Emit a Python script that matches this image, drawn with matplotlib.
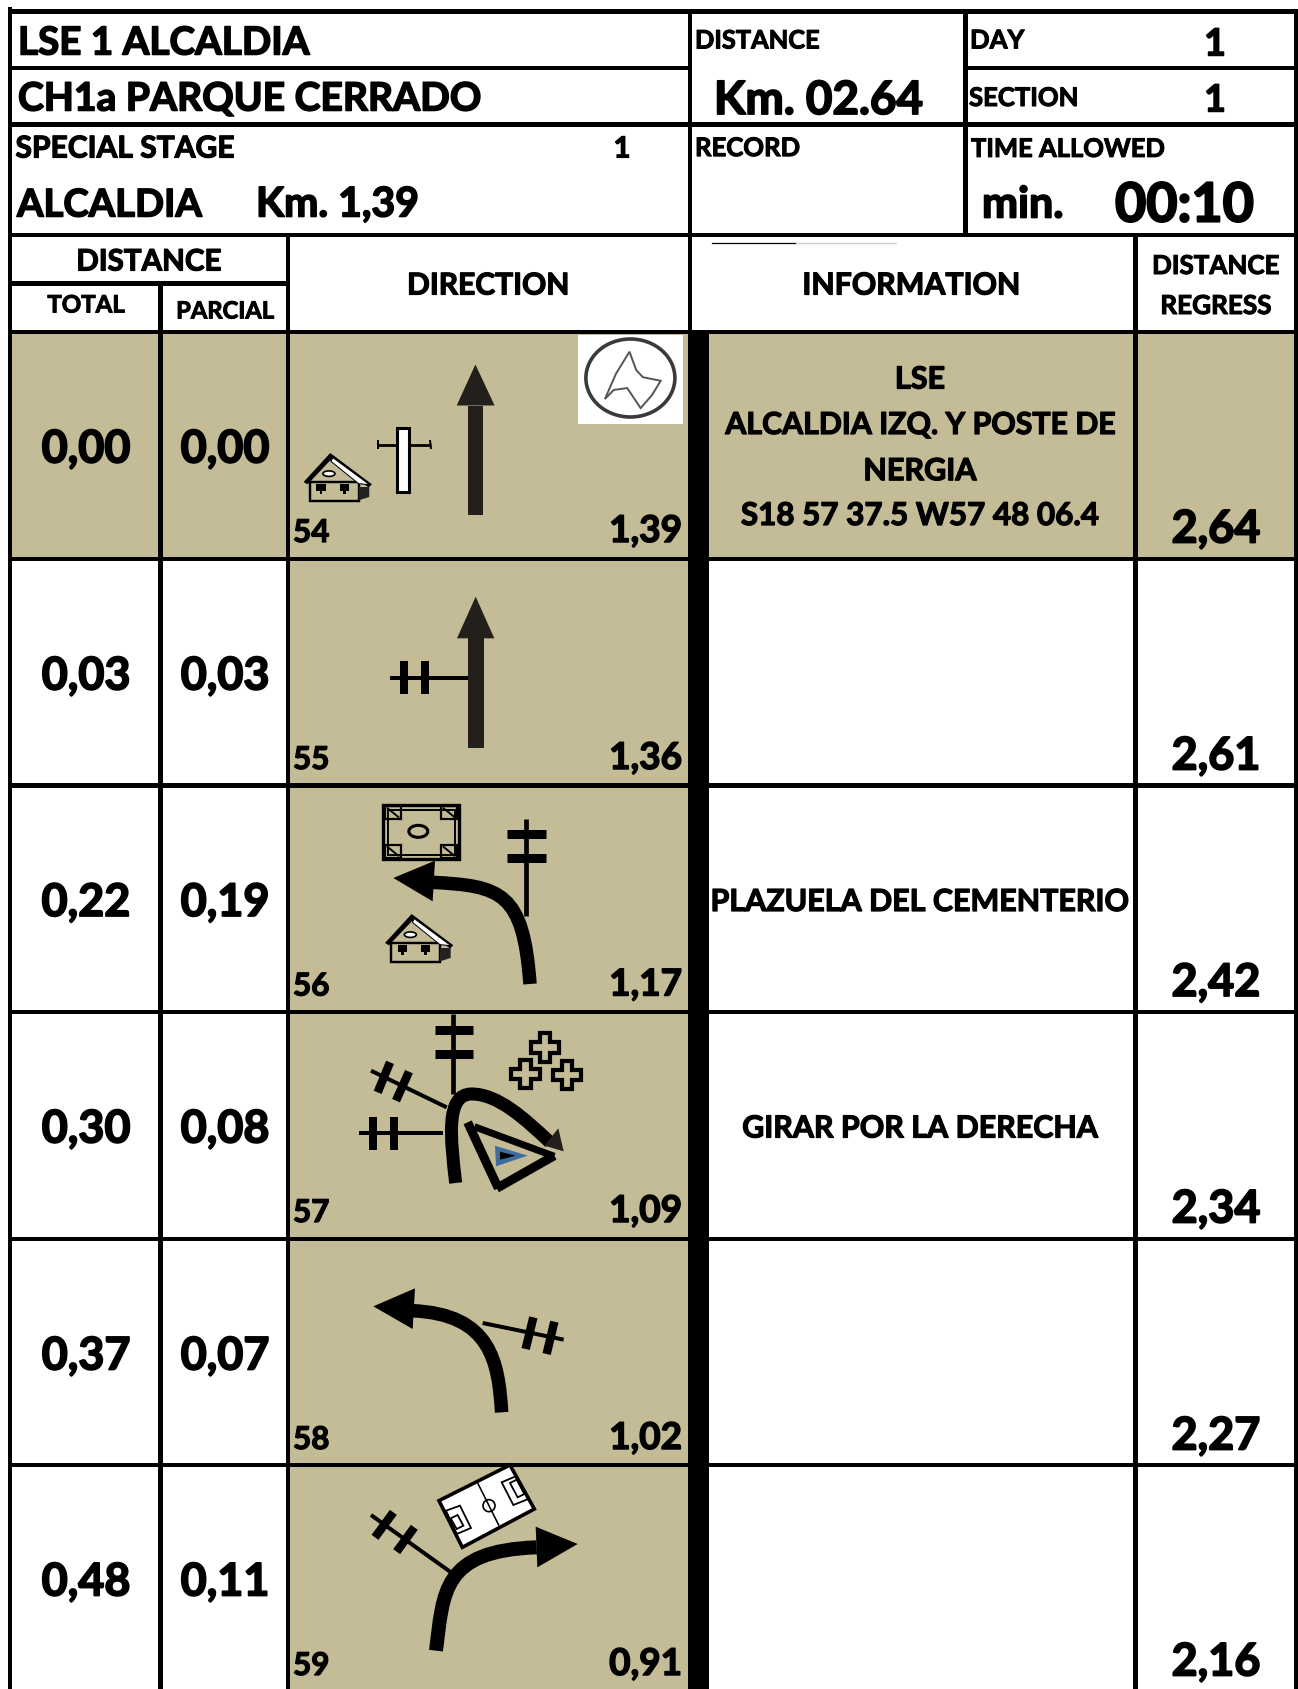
import matplotlib
matplotlib.use("Agg")
import matplotlib.pyplot as plt
import matplotlib.patheffects as pe
from matplotlib.patches import Rectangle, Polygon, Ellipse, PathPatch, Circle
from matplotlib.path import Path

plt.rcParams['font.family'] = ['Lato', 'DejaVu Sans']

# ---- data ----
row_ids = ['54', '55', '56', '57', '58', '59']
total = ['0,00', '0,03', '0,22', '0,30', '0,37', '0,48']
parcial = ['0,00', '0,03', '0,19', '0,08', '0,07', '0,11']
remaining = ['1,39', '1,36', '1,17', '1,09', '1,02', '0,91']
regress = ['2,64', '2,61', '2,42', '2,34', '2,27', '2,16']
info_single = ['', '', 'PLAZUELA DEL CEMENTERIO', 'GIRAR POR LA DERECHA', '', '']
info_first = ['LSE', 'ALCALDIA IZQ. Y POSTE DE', 'NERGIA', 'S18 57 37.5 W57 48 06.4']
info_sizes = [22, 21.8, 22, 22.6]
row_tops = [333, 560, 786.5, 1013, 1240, 1466]

TAN = '#C4BC96'
DARK = '#231F1A'
LW = 4.6

W, H = 1298, 1690
fig = plt.figure(figsize=(W / 100, H / 100), dpi=100)
ax = fig.add_axes([0, 0, 1, 1])
ax.set_xlim(0, W)
ax.set_ylim(H, 0)
ax.axis('off')


def T(x, y, s, size, ha='left', color='black'):
    t = ax.text(x, y + 1.5, s, fontsize=size, ha=ha, va='baseline', fontweight='bold', color=color, zorder=10)
    t.set_path_effects([pe.withStroke(linewidth=size * 0.04, foreground=color)])


def rect(x0, y0, x1, y1, color='black', z=3):
    ax.add_patch(Rectangle((x0, y0), x1 - x0, y1 - y0, fc=color, ec='none', zorder=z))


def hl(y, x0, x1):
    rect(x0 - LW / 2, y - LW / 2, x1 + LW / 2, y + LW / 2)


def vl(x, y0, y1):
    rect(x - LW / 2, y0 - LW / 2, x + LW / 2, y1)


def Z(ox, oy):
    return lambda p: (ox + p[0] / 3, oy + p[1] / 3)


def seg(a, b, w, color='black', z=5):
    ax.plot([a[0], b[0]], [a[1], b[1]], color=color, lw=w * 0.72, solid_capstyle='butt', zorder=z)


def poly(pts, fc='black', ec='none', lw=0, z=5, join='miter'):
    ax.add_patch(Polygon(pts, closed=True, fc=fc, ec=ec, lw=lw * 0.72, zorder=z, joinstyle=join))


def curve(pts, w, z=5):
    codes = [Path.MOVETO] + [Path.CURVE4] * (len(pts) - 1)
    ax.add_patch(PathPatch(Path(pts, codes), fc='none', ec='black', lw=w * 0.72, capstyle='butt', zorder=z))


def house(x, y, s=1.0):
    f = lambda a, b: (x + (a - 300) / 3 * s, y + (b - 403) / 3 * s)
    poly([f(318, 490), f(465, 490), f(465, 547), f(318, 547)], fc=TAN, ec='black', lw=2.4 * s)
    poly([f(465, 505), f(497, 505), f(497, 535), f(465, 545)], fc='#222222')
    poly([f(300, 490), f(380, 403), f(505, 497), f(495, 506), f(380, 425), f(312, 497)])
    poly([f(388, 417), f(498, 498), f(465, 495), f(382, 428)], fc='white', ec='black', lw=1)
    for a in (338, 408):
        poly([f(a, 495), f(a + 28, 495), f(a + 28, 518), f(a + 18, 518), f(a + 18, 527), f(a + 10, 527), f(a + 10, 518), f(a, 518)])
    ax.add_patch(Ellipse(f(376, 465), 12 * s, 5.5 * s, fc='white', ec='black', lw=1.2, zorder=6))


# ---- cell fills ----
rect(10, 333, 1296, 560, TAN, 1)
for top in row_tops[1:]:
    rect(288, top, 690, min(top + 227, H), TAN, 1)

# ---- grid ----
hl(12.7, 10, 1296)
hl(68.8, 10, 690)
hl(68.8, 965.5, 1296)
hl(125.5, 10, 1296)
hl(236, 10, 1296)
hl(284.5, 10, 288)
hl(333, 10, 1296)
for top in row_tops[1:]:
    hl(top, 10, 1296)
vl(10, 10, H)
vl(160.5, 284.5, H)
vl(288, 236, H)
vl(690, 12.7, 333)
vl(965.5, 12.7, 236)
vl(1135.5, 236, H)
vl(1296, 12.7, H)
rect(688, 333, 709, H, 'black', 4)
ax.plot([711.5, 795.5], [244.4, 244.4], color='black', lw=0.9, zorder=4)
ax.plot([795.5, 896], [244.4, 244.4], color='#cccccc', lw=0.9, zorder=4)

# ---- header text ----
T(18, 54, 'LSE 1 ALCALDIA', 27.8)
T(18, 110, 'CH1a PARQUE CERRADO', 28.1)
T(15.5, 157, 'SPECIAL STAGE', 21.6)
T(622, 157, '1', 21, 'center')
T(17, 216, 'ALCALDIA', 27.5)
T(256, 216, 'Km. 1,39', 29.5)
T(695, 48, 'DISTANCE', 18.3)
T(714, 113.5, 'Km. 02.64', 33)
T(970, 48, 'DAY', 18.6)
T(1215, 55, '1', 27, 'center')
T(969, 105.5, 'SECTION', 18.5)
T(1215, 111, '1', 27, 'center')
T(695, 155.6, 'RECORD', 18.5)
T(971, 156.4, 'TIME ALLOWED', 18.4)
T(982, 217, 'min.', 31)
T(1115, 221, '00:10', 38.8)
T(149, 270, 'DISTANCE', 21.3, 'center')
T(86, 312, 'TOTAL', 17.3, 'center')
T(225, 318, 'PARCIAL', 17.1, 'center')
T(488, 294, 'DIRECTION', 21.6, 'center')
T(911, 294, 'INFORMATION', 21.8, 'center')
T(1216, 273.5, 'DISTANCE', 18.7, 'center')
T(1216, 313.5, 'REGRESS', 18.8, 'center')

# ---- row text ----
for i, top in enumerate(row_tops):
    T(86, top + 129, total[i], 32.4, 'center')
    T(225, top + 129, parcial[i], 32.4, 'center')
    T(293, top + 208.5, row_ids[i], 22.6)
    T(682, top + 208.5, remaining[i], 26.6, 'right')
    T(1216, top + 209, regress[i], 32.4, 'center')
    if info_single[i]:
        T(920, top + 124, info_single[i], 21.9, 'center')
for y, s, sz in zip([388, 433.5, 479.7, 524.5], info_first, info_sizes):
    T(920, y, s, sz, 'center')

# ---- row 54 glyphs ----
rect(467.6, 406.5, 483.2, 515.6, DARK, 5)
poly([(475.4, 365.5), (494.6, 406.5), (456.7, 406.5)], fc=DARK)
seg((377, 445.5), (431, 445.5), 2.8)
seg((378, 441), (378, 450), 2)
seg((430, 441), (431, 450), 2)
ax.add_patch(Rectangle((396.5, 429), 12.5, 64, fc='white', ec='black', lw=2.2, zorder=6))
house(303.6, 454, 1.0)
rect(578, 336, 683, 425, 'white', 5)
ax.add_patch(Ellipse((630.4, 379), 89, 78, fc='white', ec='#3a3a3a', lw=2.6, zorder=6))
f1 = lambda p: (p[0] / 2.24, p[1] / 2.75)
ax.add_patch(Polygon([f1(p) for p in [(1410, 970), (1425, 1020), (1440, 1040), (1480, 1050), (1460, 1090), (1435, 1125),
                                      (1405, 1070), (1375, 1075), (1355, 1100), (1380, 1030)]],
                     closed=True, fc='white', ec='#555555', lw=1.4, zorder=7))

# ---- row 55 glyphs ----
z = Z(285, 555)
rect(*z((548, 253)), *z((596, 582)), DARK, 5)
poly([z((572, 128)), z((628, 253)), z((516, 253))], fc=DARK)
seg(z((315, 372)), z((548, 372)), 4)
seg(z((357, 322)), z((357, 420)), 8)
seg(z((420, 322)), z((420, 420)), 8)

# ---- row 56 glyphs ----
z = Z(285, 780)
for (a, b) in [(300, 82), (468, 82), (300, 198), (468, 198)]:
    ax.add_patch(Rectangle(z((a, b)), 16, 13, fc=TAN, ec='black', lw=1.6, zorder=5))
    ax.plot(*zip(z((a + 8, b + 6)), z((a + 40, b + 32))), color='black', lw=1.4, zorder=6)
ax.add_patch(Rectangle(z((294, 77)), 76, 54.5, fc='none', ec='black', lw=2.4, zorder=5))
ax.add_patch(Rectangle(z((308, 92)), 67, 45, fc='none', ec='black', lw=1.4, zorder=5))
ax.add_patch(Ellipse(z((400, 157)), 19, 12, fc='none', ec='black', lw=2.2, zorder=5))
seg(z((724, 120)), z((724, 410)), 4.7)
seg(z((666, 166)), z((783, 166)), 9)
seg(z((666, 238)), z((783, 238)), 9)
curve([z((735, 615)), z((715, 340)), z((650, 320)), z((440, 310))], 13.5)
poly([z((325, 297)), z((450, 245)), z((443, 367))])
house(385, 915, 1.0)

# ---- row 57 glyphs ----
seg(z((505, 705)), z((505, 945)), 4.7)
seg(z((450, 754)), z((564, 754)), 9)
seg(z((450, 826)), z((564, 826)), 9)
seg(z((258, 875)), z((485, 985)), 4)
seg(z((315, 850)), z((278, 940)), 8.5)
seg(z((372, 878)), z((333, 965)), 8.5)
seg(z((222, 1062)), z((473, 1062)), 4)
seg(z((264, 1014)), z((264, 1112)), 8)
seg(z((327, 1014)), z((327, 1112)), 8)
for cx, cy in [(780, 805), (722, 885), (846, 888)]:
    a, b = 16, 43
    cross = [(cx - a, cy - b), (cx + a, cy - b), (cx + a, cy - a), (cx + b, cy - a), (cx + b, cy + a), (cx + a, cy + a),
             (cx + a, cy + b), (cx - a, cy + b), (cx - a, cy + a), (cx - b, cy + a), (cx - b, cy - a), (cx - a, cy - a)]
    poly([z(p) for p in cross], fc=TAN, ec='black', lw=4.2)
curve([z((512, 1212)), z((497, 1080)), z((480, 945)), z((560, 945)), z((640, 945)), z((720, 1020)), z((795, 1090))], 13)
poly([z((820, 1048)), z((836, 1117)), z((778, 1100))], fc=DARK, z=6)
seg(z((548, 1030)), z((640, 1228)), 9, z=7)
seg(z((635, 1228)), z((808, 1130)), 9, z=7)
seg(z((808, 1132)), z((568, 1043)), 7, z=7)
poly([z((630, 1100)), z((728, 1130)), z((633, 1162))], fc='#3F6C9E', z=7)
poly([z((645, 1118)), z((692, 1130)), z((645, 1142))], z=8)

# ---- row 58 glyphs ----
z = Z(285, 1230)
curve([z((650, 550)), z((640, 400)), z((620, 255)), z((380, 245))], 13.5)
poly([z((265, 232)), z((390, 178)), z((383, 300))])
seg(z((593, 282)), z((836, 332)), 4)
seg(z((745, 265)), z((722, 360)), 8.5)
seg(z((808, 278)), z((785, 375)), 8.5)

# ---- row 59 glyphs ----
curve([z((453, 1265)), z((475, 1090)), z((470, 965)), z((755, 955))], 14)
poly([z((878, 945)), z((752, 893)), z((757, 1015))])
seg(z((258, 858)), z((495, 1028)), 4)
seg(z((325, 850)), z((270, 925)), 8.5)
seg(z((388, 895)), z((335, 968)), 8.5)
poly([z(p) for p in [(462, 815), (675, 708), (748, 840), (532, 955)]], fc='white', ec='black', lw=3.6, z=6)
seg(z((578, 762)), z((642, 890)), 1.6, z=7)
ax.add_patch(Circle(z((612, 830)), 6, fc='none', ec='black', lw=1.2, zorder=7))
for box in ([(483, 845), (525, 830), (558, 897), (515, 915)],
            [(497, 868), (518, 858), (535, 890), (515, 900)],
            [(650, 760), (692, 742), (730, 810), (685, 828)],
            [(675, 762), (695, 752), (718, 795), (698, 805)]):
    poly([z(p) for p in box], fc='none', ec='black', lw=1.8, z=7)

fig.savefig('out.png', dpi=100, facecolor='white')
